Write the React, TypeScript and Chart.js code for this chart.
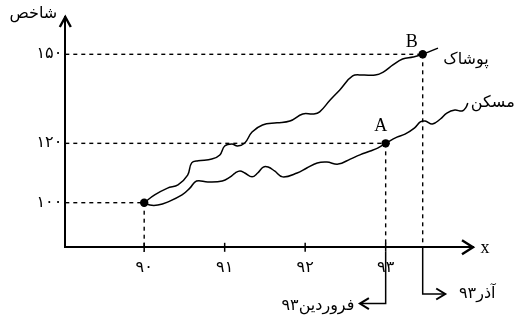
import React, { useEffect, useRef } from "react";
import { Chart, registerables } from "chart.js";

Chart.register(...registerables);

// ---- data ----
const xTicks = [90, 91, 92, 93];
const yTicks = [100, 120, 150];

// پوشاک (clothing) index curve
const clothingX = [90, 90.13, 90.29, 90.42, 90.54, 90.59, 90.67, 90.84, 90.94, 91.0, 91.09, 91.16, 91.25, 91.34, 91.47, 91.65, 91.81, 91.97, 92.1, 92.18, 92.31, 92.43, 92.59, 92.72, 92.87, 92.97, 93.09, 93.21, 93.34, 93.46, 93.65];
const clothingY = [100, 102.6, 104.9, 106.0, 109.3, 113.4, 114.1, 114.7, 116.1, 119.1, 119.8, 119.1, 120.1, 123.8, 126.2, 126.9, 127.5, 129.9, 129.9, 130.6, 134.6, 138.0, 142.7, 143.0, 143.0, 144.0, 146.4, 148.4, 149.1, 150, 152.1];

// مسکن (housing) index curve
const housingX = [90, 90.07, 90.17, 90.29, 90.47, 90.57, 90.65, 90.79, 90.97, 91.07, 91.13, 91.19, 91.25, 91.34, 91.41, 91.48, 91.54, 91.62, 91.72, 91.9, 92.02, 92.15, 92.27, 92.41, 92.56, 92.68, 92.81, 92.9, 93.0, 93.14, 93.24, 93.36, 93.43, 93.49, 93.58, 93.68, 93.76, 93.86, 93.95, 94.0, 94.02];
const housingY = [100, 99.2, 99.2, 100.2, 102.6, 105.0, 107.3, 107.0, 107.3, 108.7, 110.0, 110.7, 110.0, 108.7, 110.0, 112.0, 112.0, 110.7, 108.7, 110.0, 111.7, 113.4, 113.7, 113.0, 114.7, 116.1, 117.4, 118.4, 120, 122.1, 123.1, 125.2, 127.2, 127.5, 126.5, 128.2, 130.2, 131.2, 130.9, 132.2, 133.6];

// marked points: start, A (فروردین ۹۳), B (آذر ۹۳)
const markerX = [90, 93, 93.46];
const markerY = [100, 120, 150];

// axis ranges
const X_MIN = 89.02;
const X_MAX = 94.085;
const Y_MIN = 84.97;
const Y_MAX = 162.57;

// below-axis bracket levels (value units)
const farvardinBracketY = 66.0;
const farvardinBracketEndX = 92.68;
const azarBracketY = 69.24;
const azarBracketEndX = 93.74;

const FA = "۰۱۲۳۴۵۶۷۸۹";
const toFa = (v: number | string) => String(v).replace(/[0-9]/g, (d) => FA[+d]);

const zip = (xs: number[], ys: number[]) => xs.map((x, i) => ({ x, y: ys[i] }));

export default function App() {
  const ref = useRef<HTMLCanvasElement | null>(null);

  useEffect(() => {
    const canvas = ref.current;
    if (!canvas) return;

    const dashed = (pts: { x: number; y: number }[]) => ({
      data: pts,
      borderColor: "#000",
      borderWidth: 1.4,
      borderDash: [4, 4],
      pointRadius: 0,
      tension: 0,
      clip: false as any,
      order: 5,
    });
    const solid = (pts: { x: number; y: number }[]) => ({
      data: pts,
      borderColor: "#000",
      borderWidth: 1.5,
      pointRadius: 0,
      tension: 0,
      clip: false as any,
      order: 4,
    });

    const overlay = {
      id: "overlay",
      afterDatasetsDraw(chart: any) {
        const { ctx, chartArea } = chart;
        const xs = chart.scales.x;
        const ys = chart.scales.y;
        const px = (v: number) => xs.getPixelForValue(v);
        const py = (v: number) => ys.getPixelForValue(v);
        const line = (a: number, b: number, c: number, d: number) => {
          ctx.beginPath();
          ctx.moveTo(a, b);
          ctx.lineTo(c, d);
          ctx.stroke();
        };
        ctx.save();
        ctx.strokeStyle = "#000";
        ctx.fillStyle = "#000";
        ctx.lineCap = "butt";
        // x tick marks crossing the axis
        ctx.lineWidth = 1.5;
        xTicks.forEach((v) => line(px(v), chartArea.bottom - 4.5, px(v), chartArea.bottom + 4.5));
        // axis arrowheads
        ctx.lineWidth = 2.4;
        ctx.lineJoin = "miter";
        ctx.beginPath();
        ctx.moveTo(chartArea.left - 5.5, chartArea.top + 10);
        ctx.lineTo(chartArea.left, chartArea.top);
        ctx.lineTo(chartArea.left + 5.5, chartArea.top + 10);
        ctx.stroke();
        ctx.beginPath();
        ctx.moveTo(chartArea.right - 11, chartArea.bottom - 7);
        ctx.lineTo(chartArea.right, chartArea.bottom);
        ctx.lineTo(chartArea.right - 11, chartArea.bottom + 7);
        ctx.stroke();
        // bracket arrowheads
        ctx.lineWidth = 2;
        const fx = px(farvardinBracketEndX);
        const fy = py(farvardinBracketY);
        ctx.beginPath();
        ctx.moveTo(fx + 9, fy - 5.5);
        ctx.lineTo(fx, fy);
        ctx.lineTo(fx + 9, fy + 5.5);
        ctx.stroke();
        const ax = px(azarBracketEndX);
        const ay = py(azarBracketY);
        ctx.beginPath();
        ctx.moveTo(ax - 9, ay - 5.5);
        ctx.lineTo(ax, ay);
        ctx.lineTo(ax - 9, ay + 5.5);
        ctx.stroke();

        // texts
        ctx.textBaseline = "middle";
        ctx.textAlign = "center";
        ctx.font = '18px "Liberation Serif"';
        ctx.fillText("B", px(markerX[2]) - 11, py(markerY[2]) - 12);
        ctx.fillText("A", px(markerX[1]) - 5, py(markerY[1]) - 17);
        ctx.fillText("x", chartArea.right + 12, chartArea.bottom + 1);

        ctx.direction = "rtl";
        ctx.font = '16px "DejaVu Sans"';
        ctx.textAlign = "center";
        const cEndX = px(clothingX[clothingX.length - 1]);
        const cEndY = py(clothingY[clothingY.length - 1]);
        ctx.fillText("پوشاک", cEndX + 28, cEndY + 12);
        const hEndX = px(housingX[housingX.length - 1]);
        const hEndY = py(housingY[housingY.length - 1]);
        ctx.fillText("مسکن", hEndX + 25, hEndY);
        ctx.fillText("فروردین۹۳", fx - 42, fy + 2);
        ctx.fillText("آذر۹۳", ax + 32, ay);
        ctx.fillText("شاخص", chartArea.left - 32, chartArea.top - 3);
        ctx.restore();
      },
    };

    const chart = new Chart(canvas, {
      type: "line",
      data: {
        datasets: [
          // dashed guide lines
          dashed([{ x: X_MIN, y: markerY[2] }, { x: markerX[2], y: markerY[2] }]),
          dashed([{ x: X_MIN, y: markerY[1] }, { x: markerX[1], y: markerY[1] }]),
          dashed([{ x: X_MIN, y: markerY[0] }, { x: markerX[0], y: markerY[0] }]),
          dashed([{ x: markerX[0], y: markerY[0] }, { x: markerX[0], y: Y_MIN - 1.5 }]),
          dashed([{ x: markerX[1], y: markerY[1] }, { x: markerX[1], y: Y_MIN }]),
          dashed([{ x: markerX[2], y: markerY[2] }, { x: markerX[2], y: Y_MIN }]),
          // brackets below axis
          solid([
            { x: markerX[1], y: Y_MIN - 1.5 },
            { x: markerX[1], y: farvardinBracketY },
            { x: farvardinBracketEndX, y: farvardinBracketY },
          ]),
          solid([
            { x: markerX[2], y: Y_MIN },
            { x: markerX[2], y: azarBracketY },
            { x: azarBracketEndX, y: azarBracketY },
          ]),
          {
            label: "پوشاک",
            data: zip(clothingX, clothingY),
            borderColor: "#000",
            borderWidth: 1.5,
            pointRadius: 0,
            tension: 0.4,
            clip: false as any,
            order: 2,
          },
          {
            label: "مسکن",
            data: zip(housingX, housingY),
            borderColor: "#000",
            borderWidth: 1.5,
            pointRadius: 0,
            tension: 0.4,
            clip: false as any,
            order: 2,
          },
          {
            label: "points",
            data: zip(markerX, markerY),
            showLine: false,
            pointRadius: 4.2,
            pointBackgroundColor: "#000",
            pointBorderColor: "#000",
            pointBorderWidth: 0,
            clip: false as any,
            order: 1,
          },
        ] as any,
      },
      options: {
        responsive: false,
        animation: false,
        devicePixelRatio: 1,
        layout: { padding: { top: 17, right: 41, left: 0, bottom: 0 } },
        plugins: { legend: { display: false }, tooltip: { enabled: false } },
        scales: {
          x: {
            type: "linear",
            min: X_MIN,
            max: X_MAX,
            afterBuildTicks: (s: any) => {
              s.ticks = xTicks.map((v) => ({ value: v }));
            },
            afterFit: (s: any) => {
              s.height = 69.7;
            },
            grid: { display: false },
            border: { display: true, color: "#000", width: 2 },
            ticks: {
              color: "#000",
              font: { family: "DejaVu Sans", size: 16 },
              padding: 3,
              maxRotation: 0,
              callback: (v: any) => toFa(v),
            },
          },
          y: {
            type: "linear",
            min: Y_MIN,
            max: Y_MAX,
            afterBuildTicks: (s: any) => {
              s.ticks = yTicks.map((v) => ({ value: v }));
            },
            afterFit: (s: any) => {
              s.width = 65.3;
            },
            grid: { display: false },
            border: { display: true, color: "#000", width: 2 },
            ticks: {
              color: "#000",
              font: { family: "DejaVu Sans", size: 16 },
              padding: -5,
              callback: (v: any) => toFa(v),
            },
          },
        },
      } as any,
      plugins: [overlay],
    });

    return () => chart.destroy();
  }, []);

  return (
    <div style={{ position: "fixed", left: 0, top: 0, width: 514, height: 317, background: "#fff" }}>
      <canvas ref={ref} width={514} height={317} style={{ display: "block", width: 514, height: 317 }} />
    </div>
  );
}
